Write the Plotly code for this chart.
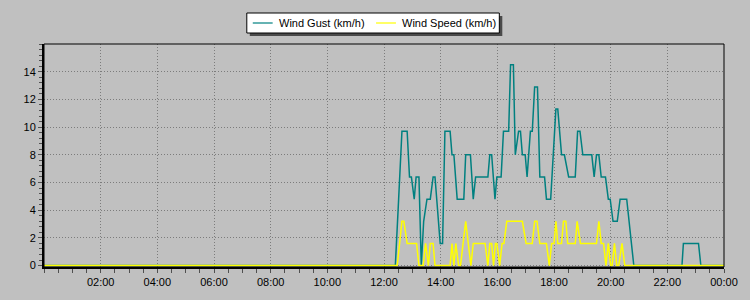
import plotly.graph_objects as go

DAY = "2024-01-01"
NEXT_DAY = "2024-01-02"

# Wind Gust (km/h) samples: time of day, value
gust_times = ["00:00", "12:24", "12:31", "12:38", "12:49", "12:54", "12:58", "13:04", "13:08", "13:14",
              "13:19", "13:24", "13:31", "13:38", "13:44", "13:48", "13:59", "14:04", "14:09", "14:20",
              "14:24", "14:28", "14:35", "14:49", "14:53", "15:03", "15:09", "15:14", "15:40", "15:44",
              "15:48", "15:55", "15:59", "16:08", "16:13", "16:24", "16:28", "16:34", "16:38", "16:45",
              "16:49", "16:53", "16:59", "17:03", "17:10", "17:14", "17:19", "17:25", "17:30", "17:40",
              "17:44", "17:53", "18:04", "18:08", "18:16", "18:22", "18:31", "18:45", "18:50", "18:55",
              "19:01", "19:20", "19:25", "19:30", "19:35", "19:40", "19:49", "19:55", "19:59", "20:05",
              "20:14", "20:20", "20:34", "20:49", "22:31", "22:34", "23:06", "23:11", "24:00"]
gust_values = [0, 0, 4.8, 9.7, 9.7, 6.4, 6.4, 4.8, 6.4, 6.4,
               0, 3.2, 4.8, 4.8, 6.4, 6.4, 1.6, 1.6, 9.7, 9.7,
               8.0, 8.0, 4.8, 4.8, 8.0, 8.0, 4.8, 6.4, 6.4, 8.0,
               8.0, 4.8, 6.4, 6.4, 9.7, 9.7, 14.5, 14.5, 8.0, 9.7,
               9.7, 8.0, 8.0, 6.4, 9.7, 9.7, 12.9, 12.9, 6.4, 6.4,
               4.8, 4.8, 11.3, 11.3, 8.0, 8.0, 6.4, 6.4, 9.7, 9.7,
               8.0, 8.0, 6.4, 8.0, 8.0, 6.4, 6.4, 4.8, 4.8, 3.2,
               3.2, 4.8, 4.8, 0, 0, 1.6, 1.6, 0, 0]

# Wind Speed (km/h) samples
speed_times = ["00:00", "12:28", "12:38", "12:42", "12:49", "13:09", "13:14", "13:23", "13:28", "13:34",
               "13:38", "13:44", "13:48", "14:20", "14:24", "14:28", "14:32", "14:38", "14:42", "14:53",
               "15:04", "15:09", "15:34", "15:40", "15:44", "15:48", "15:52", "15:56", "15:59", "16:05",
               "16:10", "16:14", "16:20", "16:53", "17:01", "17:14", "17:19", "17:24", "17:30", "17:44",
               "17:50", "17:55", "18:00", "18:04", "18:08", "18:16", "18:20", "18:25", "18:29", "18:45",
               "18:49", "18:56", "19:30", "19:35", "19:40", "19:45", "19:50", "19:55", "20:00", "20:03",
               "20:08", "20:13", "20:17", "20:24", "20:30", "24:00"]
speed_values = [0, 0, 3.2, 3.2, 1.6, 1.6, 0, 0, 1.6, 0,
                1.6, 1.6, 0, 0, 1.6, 0, 1.6, 0, 0, 3.2,
                0, 1.6, 1.6, 0, 1.6, 1.6, 0, 1.6, 1.6, 0,
                1.6, 1.6, 3.2, 3.2, 1.6, 1.6, 3.2, 3.2, 1.6, 1.6,
                0, 1.6, 1.6, 3.2, 1.6, 1.6, 3.2, 3.2, 1.6, 1.6,
                3.2, 1.6, 1.6, 3.2, 1.6, 1.6, 0, 1.6, 0, 0,
                1.6, 0, 0, 1.6, 0, 0]

series_names = ["Wind Gust (km/h)", "Wind Speed (km/h)"]
series_colors = ["#008080", "#ffff00"]

x_tick_hours = [2, 4, 6, 8, 10, 12, 14, 16, 18, 20, 22, 24]
x_tick_labels = ["02:00", "04:00", "06:00", "08:00", "10:00", "12:00",
                 "14:00", "16:00", "18:00", "20:00", "22:00", "00:00"]
y_tick_values = [0, 2, 4, 6, 8, 10, 12, 14]


def to_dt(t):
    if t == "24:00":
        return NEXT_DAY + " 00:00"
    return DAY + " " + t


def hour_dt(h):
    return NEXT_DAY + " 00:00" if h == 24 else f"{DAY} {h:02d}:00"


W, H = 750, 300
ML, MR, MT, MB = 44, 22, 44, 33
PW, PH = W - ML - MR, H - MT - MB


def px(x):  # pixel x -> paper x
    return (x - ML) / PW


def py(y):  # pixel y -> paper y
    return (H - MB - y) / PH


BG = "#c0c0c0"
GRID = "#7c7c7c"
FONT = "Liberation Sans"

fig = go.Figure()
fig.add_trace(go.Scatter(
    x=[to_dt(t) for t in gust_times], y=gust_values, mode="lines",
    name=series_names[0], line=dict(color=series_colors[0], width=1.5), showlegend=False))
fig.add_trace(go.Scatter(
    x=[to_dt(t) for t in speed_times], y=speed_values, mode="lines",
    name=series_names[1], line=dict(color=series_colors[1], width=1.5), showlegend=False))

# Legend (drawn as a boxed key with shadow, like the original)
LX0, LX1, LY0, LY1 = 248, 502, 13, 33
shapes = [
    dict(type="rect", xref="paper", yref="paper", x0=0, x1=1, y0=0, y1=1,
         line=dict(color="#000000", width=1), fillcolor="rgba(0,0,0,0)", layer="above"),
    dict(type="rect", xref="paper", yref="paper",
         x0=px(LX0 + 3), x1=px(LX1 + 3), y0=py(LY1 + 3), y1=py(LY0 + 3),
         line=dict(width=0), fillcolor="#4a4a4a", layer="above"),
    dict(type="rect", xref="paper", yref="paper",
         x0=px(LX0), x1=px(LX1), y0=py(LY1), y1=py(LY0),
         line=dict(color="#000000", width=1), fillcolor="#ffffff", layer="above"),
]
annotations = []
key_x = [254, 378]
ymid = (LY0 + LY1) / 2
for name, color, kx in zip(series_names, series_colors, key_x):
    shapes.append(dict(type="line", xref="paper", yref="paper",
                       x0=px(kx), x1=px(kx + 20), y0=py(ymid), y1=py(ymid),
                       line=dict(color=color, width=1.2), layer="above"))
    annotations.append(dict(xref="paper", yref="paper", x=px(kx + 24), y=py(ymid),
                            xanchor="left", yanchor="middle", text=name, showarrow=False,
                            font=dict(family=FONT, size=11, color="#000000")))

fig.update_layout(
    width=W, height=H,
    margin=dict(l=ML, r=MR, t=MT, b=MB),
    paper_bgcolor=BG, plot_bgcolor=BG,
    font=dict(family=FONT, size=11, color="#000000"),
    showlegend=False,
    xaxis=dict(
        type="date",
        range=[DAY + " 00:00", NEXT_DAY + " 00:00"],
        tickmode="array",
        tickvals=[hour_dt(h) for h in x_tick_hours],
        ticktext=x_tick_labels,
        ticks="outside", ticklen=4, tickcolor="#505050", tickwidth=1,
        showgrid=True, gridcolor=GRID, griddash="1px,2px", gridwidth=1,
        showline=True, linecolor="#000000", linewidth=2,
        zeroline=False,
        minor=dict(dtick=30 * 60 * 1000, tick0=DAY + " 00:00", ticks="outside",
                   ticklen=4, tickcolor="#505050", showgrid=False),
        tickfont=dict(family=FONT, size=11, color="#000000"),
    ),
    yaxis=dict(
        range=[-0.1, 16],
        tickmode="array", tickvals=y_tick_values,
        ticks="outside", ticklen=4, tickcolor="#505050", tickwidth=1,
        showgrid=True, gridcolor=GRID, griddash="1px,2px", gridwidth=1,
        showline=True, linecolor="#000000", linewidth=2,
        zeroline=False,
        minor=dict(dtick=0.4, tick0=0, ticks="outside", ticklen=3,
                   tickcolor="#505050", showgrid=False),
        tickfont=dict(family=FONT, size=11, color="#000000"),
    ),
    shapes=shapes,
    annotations=annotations,
)

fig.write_html("out.html")
